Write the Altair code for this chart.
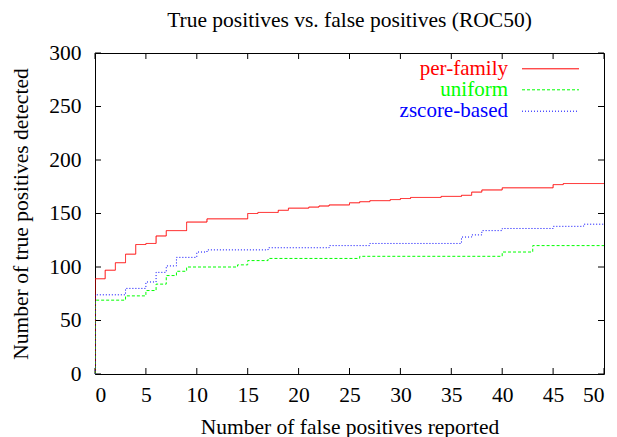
import altair as alt
import pandas as pd

# ---- data ----
series_names = ["per-family", "uniform", "zscore-based"]
series_colors = ["#ff0000", "#00ff00", "#0000ff"]

perfamily_x = [0, 0, 1, 2, 3, 4, 5, 6, 7, 9, 11, 15, 16, 18, 19, 21, 22, 23, 25, 26, 27, 29, 30, 31, 34, 36, 37, 38, 40, 45, 46, 50]
perfamily_y = [0, 89, 97, 104, 112, 121, 122, 129, 134, 142, 145, 150, 151, 153, 155, 156, 157, 158, 160, 161, 162, 163, 164, 165, 166, 167, 170, 172, 174, 177, 178, 178]

uniform_x = [0, 0, 3, 5, 6, 7, 8, 9, 14, 15, 17, 26, 40, 43, 50]
uniform_y = [0, 69, 73, 78, 84, 92, 96, 100, 102, 106, 108, 110, 114, 120, 120]

zscore_x = [0, 0, 3, 5, 6, 7, 8, 10, 11, 17, 23, 27, 36, 37, 38, 40, 45, 48, 50]
zscore_y = [0, 74, 80, 86, 95, 101, 109, 114, 116, 118, 120, 122, 128, 130, 134, 136, 138, 140, 140]

x_ticks = [0, 5, 10, 15, 20, 25, 30, 35, 40, 45, 50]
y_ticks = [0, 50, 100, 150, 200, 250, 300]

W, H = 509, 321
TICK = 6
FONT = "serif"
FS = 21.5
KEY_FS = 21

rows = []
for name, xs, ys in [("per-family", perfamily_x, perfamily_y),
                     ("uniform", uniform_x, uniform_y),
                     ("zscore-based", zscore_x, zscore_y)]:
    for i, (a, b) in enumerate(zip(xs, ys)):
        rows.append({"series": name, "fp": a, "tp": b, "order": i})
df = pd.DataFrame(rows)

xscale = alt.Scale(domain=[0, 50], nice=False, zero=False)
yscale = alt.Scale(domain=[0, 300], nice=False, zero=False)

dashes = {"per-family": [1, 0], "uniform": [3, 2], "zscore-based": [1, 2]}

base_axes = alt.Chart(pd.DataFrame({"fp": [0], "tp": [0]})).mark_point(opacity=0).encode(
    x=alt.X("fp:Q", scale=xscale,
            axis=alt.Axis(title="Number of false positives reported", values=x_ticks,
                          ticks=False, domain=False, grid=False,
                          labelPadding=27, labelBaseline="alphabetic",
                          labelFont=FONT, labelFontSize=FS, labelColor="black",
                          titleFont=FONT, titleFontSize=FS, titleFontWeight="normal",
                          titleColor="black", titleBaseline="alphabetic", titleY=59)),
    y=alt.Y("tp:Q", scale=yscale,
            axis=alt.Axis(title="Number of true positives detected", values=y_ticks,
                          ticks=False, domain=False, grid=False, labelPadding=14,
                          labelFont=FONT, labelFontSize=FS, labelColor="black",
                          titleFont=FONT, titleFontSize=FS, titleFontWeight="normal",
                          titleColor="black", titleBaseline="alphabetic", titleX=-68)),
)

layers = [base_axes]

# inward ticks on all four sides (gnuplot style)
xt = pd.DataFrame({"v": x_ticks})
yt = pd.DataFrame({"v": y_ticks})
tick_style = dict(color="black", strokeWidth=1)
layers.append(alt.Chart(xt).mark_rule(**tick_style).encode(
    x=alt.X("v:Q", scale=xscale), y=alt.value(H), y2=alt.value(H - TICK)))
layers.append(alt.Chart(xt).mark_rule(**tick_style).encode(
    x=alt.X("v:Q", scale=xscale), y=alt.value(0), y2=alt.value(TICK)))
layers.append(alt.Chart(yt).mark_rule(**tick_style).encode(
    y=alt.Y("v:Q", scale=yscale), x=alt.value(0), x2=alt.value(TICK)))
layers.append(alt.Chart(yt).mark_rule(**tick_style).encode(
    y=alt.Y("v:Q", scale=yscale), x=alt.value(W), x2=alt.value(W - TICK)))

# series lines
for name, color in zip(series_names, series_colors):
    layers.append(
        alt.Chart(df[df.series == name]).mark_line(
            interpolate="step-after", color=color, strokeWidth=1,
            strokeDash=dashes[name], clip=True
        ).encode(
            x=alt.X("fp:Q", scale=xscale),
            y=alt.Y("tp:Q", scale=yscale),
            order="order:Q",
        )
    )

# gnuplot-style key (text on left, sample on right)
key_y = [15.8, 36.8, 58.2]
for name, color, ky in zip(series_names, series_colors, key_y):
    kd = pd.DataFrame({"label": [name]})
    layers.append(alt.Chart(kd).mark_text(
        align="right", baseline="middle", font=FONT, fontSize=KEY_FS, color=color
    ).encode(text="label:N", x=alt.value(413), y=alt.value(ky)))
    layers.append(alt.Chart(kd).mark_rule(
        color=color, strokeWidth=1, strokeDash=dashes[name]
    ).encode(x=alt.value(427), x2=alt.value(484), y=alt.value(ky)))

# chart title, placed as in the reference
title_df = pd.DataFrame({"t": ["True positives vs. false positives (ROC50)"]})
layers.append(alt.Chart(title_df).mark_text(
    align="center", baseline="alphabetic", font=FONT, fontSize=FS, color="black"
).encode(text="t:N", x=alt.value(W / 2), y=alt.value(-26)))

chart = alt.layer(*layers).properties(
    width=W, height=H,
    autosize=alt.AutoSizeParams(type="none"),
    padding={"left": 95, "top": 53, "right": 13, "bottom": 63},
    background="white",
).configure_view(stroke="black", strokeWidth=1)

chart.save("out.html", embed_options={"renderer": "svg", "actions": False})
